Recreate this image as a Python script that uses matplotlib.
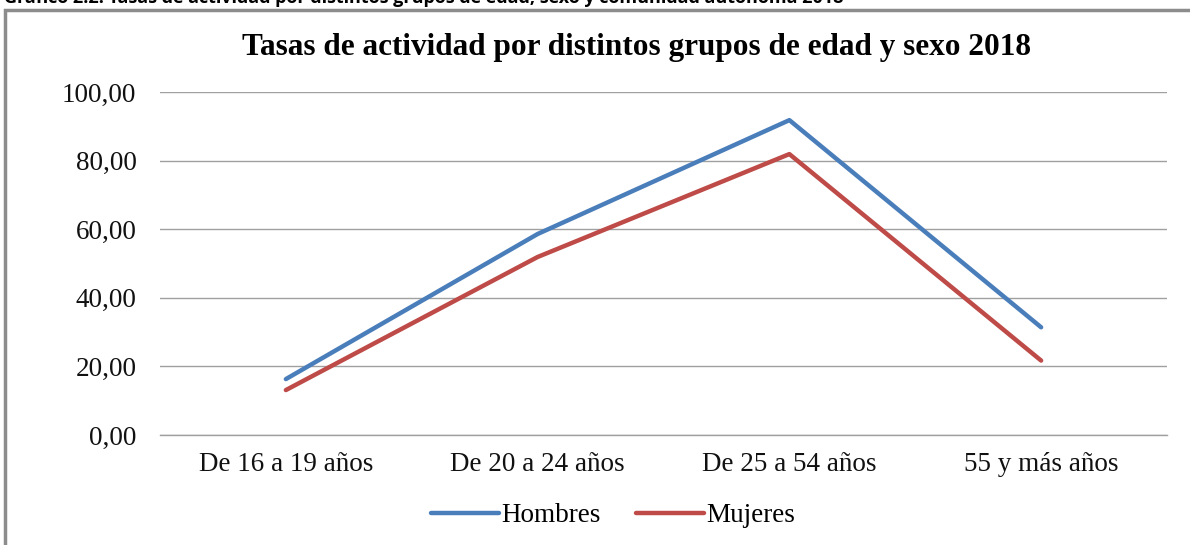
import matplotlib.pyplot as plt
from matplotlib.patches import Rectangle
from matplotlib.ticker import FuncFormatter

# datos
grupos = ['De 16 a 19 años', 'De 20 a 24 años', 'De 25 a 54 años', '55 y más años']
hombres = [16.3, 58.6, 91.8, 31.4]
mujeres = [13.1, 51.9, 81.9, 21.7]
yticks = [0, 20, 40, 60, 80, 100]

plt.rcParams['font.family'] = ['Liberation Serif', 'DejaVu Serif']

fig = plt.figure(figsize=(11.9, 5.45), dpi=100)
ax = fig.add_axes([160/1190, 1 - 435/545, 1007/1190, 343/545])

x = list(range(len(grupos)))
ax.plot(x, hombres, color='#4A7EBB', lw=3.2, solid_capstyle='round', label='Hombres')
ax.plot(x, mujeres, color='#BE4B48', lw=3.2, solid_capstyle='round', label='Mujeres')

ax.set_xlim(-0.5, len(grupos) - 0.5)
ax.set_ylim(0, 100)
ax.set_yticks(yticks)
ax.yaxis.set_major_formatter(FuncFormatter(lambda v, p: f'{v:.2f}'.replace('.', ',')))
ax.set_xticks(x)
ax.set_xticklabels(grupos)
ax.tick_params(axis='both', length=0, labelsize=19.5, colors='#111111')
ax.tick_params(axis='x', pad=12)
ax.tick_params(axis='y', pad=17)
ax.grid(axis='y', color='#A0A0A0', lw=1)
ax.set_axisbelow(True)
for s in ax.spines.values():
    s.set_visible(False)
ax.plot([-0.5, len(grupos) - 0.5], [0, 0], color='#A0A0A0', lw=1, clip_on=False, zorder=0)

fig.text(0.535, 1 - 47/545, 'Tasas de actividad por distintos grupos de edad y sexo 2018',
         ha='center', va='center', fontsize=22.5, fontweight='bold')

leg = ax.legend(loc='center', bbox_to_anchor=(0.45, (435 - 516) / 343), ncol=2, frameon=False,
                fontsize=19.5, handlelength=2.5, handletextpad=0.1, columnspacing=1.3)

# marco gris y titulo del documento (recortado arriba)
fig.patches.append(Rectangle((5/1190, -0.1), 1.2, 1 - 10/545 + 0.1, transform=fig.transFigure,
                             fill=False, edgecolor='#8C8C8C', lw=2.5))
fig.text(0.003, 1 - 3/545, 'Gráfico 2.2. Tasas de actividad por distintos grupos de edad, sexo y comunidad autónoma 2018',
         ha='left', va='baseline', fontsize=13, fontweight='bold', family=['Open Sans', 'DejaVu Sans'])

fig.savefig('out.png', dpi=100)
